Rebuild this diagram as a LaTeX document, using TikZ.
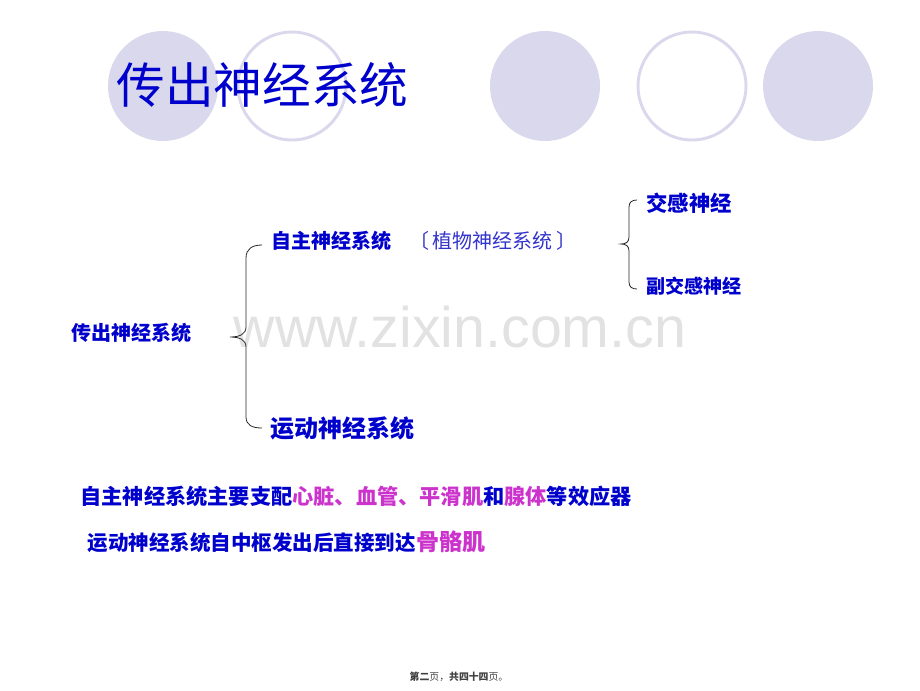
\documentclass[tikz,border=0pt]{standalone}
\usepackage{fontspec}
\setsansfont{Liberation Sans}
\newfontfamily\cjk{Noto Sans CJK SC}
\definecolor{navyblue}{RGB}{0,0,204}
\definecolor{softblue}{RGB}{51,51,204}
\definecolor{lilac}{RGB}{218,216,236}
\definecolor{pinkhl}{RGB}{204,51,204}
\definecolor{markgray}{RGB}{226,226,226}

\tikzset{every picture/.style={line width=0.75pt}}
\tikzset{
  term/.style={inner sep=0pt, anchor=west, text=navyblue, font=\cjk\bfseries\fontsize{#1}{#1}\selectfont},
  note/.style={inner sep=0pt, anchor=west, text=softblue, font=\cjk\fontsize{#1}{#1}\selectfont},
  dot/.style={draw=none, fill=lilac},
  ring/.style={draw=lilac, line width=2.2pt},
  brace/.style={draw=black!85, line width=0.6pt}
}

\begin{document}
\begin{tikzpicture}[x=0.75pt,y=0.75pt,yscale=-1,xscale=1]
	\useasboundingbox (0,0) rectangle (920,690);

	%Shape: Circle
	\draw [dot] (163,86) circle [radius=55];
	%Shape: Circle
	\draw [ring] (292,86) circle [radius=54];
	%Shape: Circle
	\draw [dot] (545,86) circle [radius=55];
	%Shape: Circle
	\draw [ring] (692,86) circle [radius=54];
	%Shape: Circle
	\draw [dot] (818,86) circle [radius=55];

	% Text Node
	\draw (116,85) node [inner sep=0pt, anchor=west, text=navyblue, font=\cjk\fontsize{36.5}{36.5}\selectfont] (title) {传出神经系统};

	% Text Node
	\draw (460,327) node [inner sep=0pt, text=markgray, font=\sffamily\fontsize{43}{43}\selectfont] (mark) {www.zixin.com.cn};

	%Shape: Brace
	\draw [brace] (262,245) .. controls (252,245) and (246,249) .. (246,258) -- (246,327) .. controls (246,334) and (240,337) .. (230,337) .. controls (240,337) and (246,340) .. (246,347) -- (246,417) .. controls (246,425) and (252,428) .. (262,428) ;
	%Shape: Brace
	\draw [brace] (637,200) .. controls (632,200) and (629,202) .. (629,207) -- (629,237) .. controls (629,242) and (626,244) .. (621,244) .. controls (626,244) and (629,246) .. (629,251) -- (629,282) .. controls (629,287) and (632,289) .. (637,289) ;

	% Text Node
	\draw (71,333) node [term=15] (efferent) {传出神经系统};
	% Text Node
	\draw (271,241) node [term=15] (autonomic) {自主神经系统};
	% Text Node
	\draw (409,241) node [note=15] (vegetative) {〔\hspace{2pt}植物神经系统\hspace{3pt}〕};
	% Text Node
	\draw (646,203) node [term=16] (sympathetic) {交感神经};
	% Text Node
	\draw (646,286) node [term=14.3] (parasym) {副交感神经};
	% Text Node
	\draw (270,428) node [term=18] (somatic) {运动神经系统};

	% Text Node
	\draw (80,496) node [term=15.9] (lineone) {自主神经系统主要支配\textcolor{pinkhl}{心脏、血管、平滑肌}和\textcolor{pinkhl}{腺体}等效应器};
	% Text Node
	\draw (87,542) node [term=15.4] (linetwo) {运动神经系统自中枢发出后直接到达\textcolor{pinkhl}{\fontsize{17.3}{17.3}\selectfont 骨骼肌}};

	% Text Node
	\draw (459,677) node [inner sep=0pt, text=black!75, font=\cjk\fontsize{7.4}{7.4}\selectfont] (footer) {{\bfseries 第二}页，{\bfseries 共四十四}页。};

\end{tikzpicture}
\end{document}
